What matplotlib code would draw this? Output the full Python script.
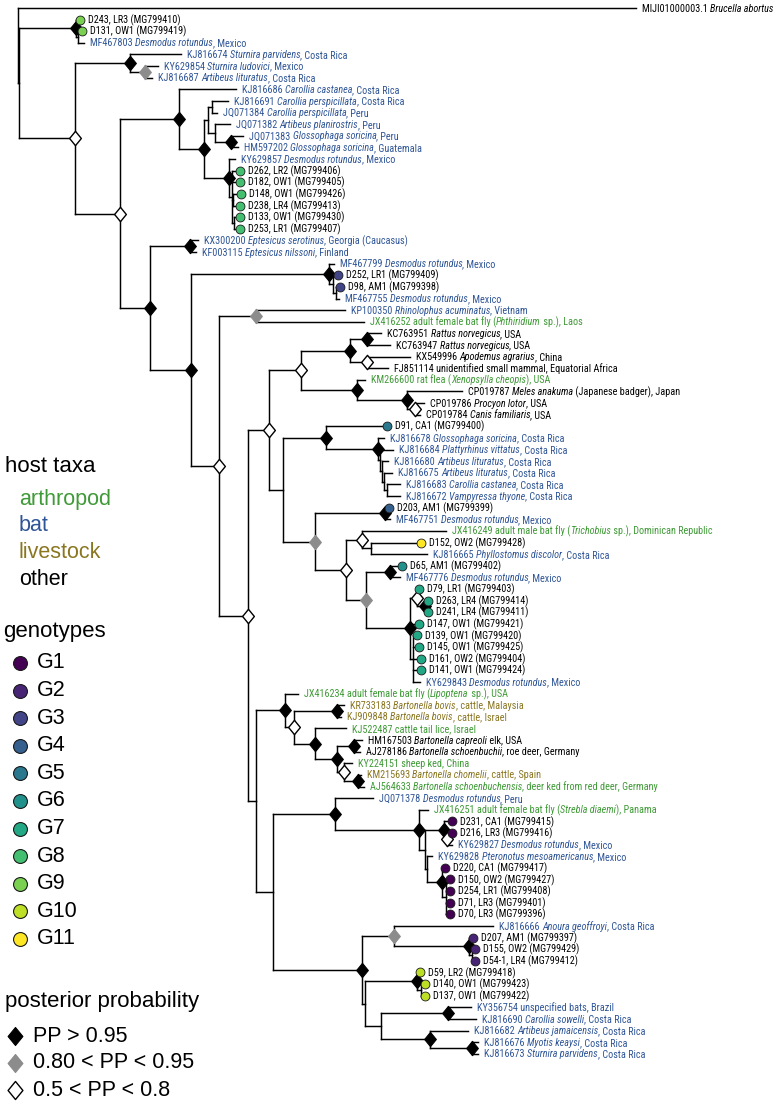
import re
import matplotlib
matplotlib.use('Agg')
import matplotlib.pyplot as plt
from matplotlib import font_manager
from matplotlib.path import Path
from matplotlib.transforms import offset_copy
from matplotlib.collections import LineCollection

# ---------------- data ----------------
# Tree topology with branch lengths (x 1e-3 subs/site) and posterior class
# H: PP > 0.95, M: 0.80 < PP < 0.95, L: 0.5 < PP < 0.8
A_CL = "(D243:4,(D131:4,MF467803:6):2)H"
S_CL = "(KJ816674:51,(KY629854:13,KJ816687:7)M:15)H"
P_CL = "((KJ816691:16,JQ071384:5):4,(JQ071382:15,(JQ071383:12,HM597202:7)H:16):7)"
DC_CL = "(KY629857:6,(D262:8,D182:8,(D148:8,D238:7):1,(D133:6,D253:6):2):3)H"
EPT_CL = "(KX300200:8,KF003115:6)H"
G3_CL = "(MF467799:5,(D252:5,(D98:4,MF467755:3):3):4)H"
RH_CL = "(KP100350:89,JX416252:108)M"
RAT_CL = "((KC763951:14,KC763947:23)H:17,(KX549996:43,FJ851114:21)L:17)H"
X_CL = "(KM266600:8,(CP019787:55,(CP019786:9,CP019784:5)L:8)H:50)H"
BT_CL = "(KJ816678:6,(KJ816684:13,(KJ816680:6,(KJ816675:8,(KJ816683:13,KJ816672:13):3):2):2):2)H"
DN_CL = "(D203:4,MF467751:5)H"
O2_CL = "(JX416249:84,(D152:50,KJ816665:56):9)L"
D65_CL = "(D65:12,MF467776:10)H"
BIG_CL = "((D79:2,(D263:3,D241:3)H:8)L:7,D147:9,(D139:4,D145:6,D161:8,D141:8,KY629843:7):3)H"
N2_CL = "((HM167503:8,AJ278186:6)H:17,(KY224151:8,(KM215693:3,AJ564633:6)H:14)L:7)H"
BOV_CL = "(KR733183:7,KJ909848:4)H"
UB_CL = "(D231:8,(D216:5,KY629827:5)L:3)H"
V_CL = "(KY629828:5,(D220:3,(D150:4,D254:4,D71:4,D70:4):4)H:15)"
Y_CL = "(KJ816666:99,(D207:4,(D155:3,D54-1:3):3)H:75)M"
G10_CL = "(D59:3,(D140:4,D137:4):4)H"
BC_CL = "((KY356754:23,KJ816690:28)H:67,(KJ816682:38,(KJ816676:6,KJ816673:6)H:42)H:49)"

CC_CL = f"(KJ816686:57,({P_CL}:4,{DC_CL}:25)H:25)H"
G7_CL = f"({D65_CL}:24,{BIG_CL}:44)M"
GY_CL = f"({DN_CL}:70,({O2_CL}:16,{G7_CL}:20)L:31)M"
HN_CL = f"(({RAT_CL}:49,{X_CL}:56)L:32,((D91:61,{BT_CL}:52)H:43,{GY_CL}:32):14)L"
LC_CL = f"(JX416234:13,({BOV_CL}:43,(KJ522487:31,{N2_CL}:22)H:21)L:9)H"
K_CL = f"(JQ071378:38,(JX416251:9,({UB_CL}:19,{V_CL}:2):6)H:84)H"
Z_CL = f"({Y_CL}:32,({G10_CL}:52,{BC_CL}:16):3)H"
G_CL = f"({HN_CL}:21,({LC_CL}:29,({K_CL}:62,{Z_CL}:89):17):8)L"
E_CL = f"({G3_CL}:138,({RH_CL}:37,{G_CL}:29)L:28)H"
C_CL = f"({CC_CL}:59,({EPT_CL}:40,{E_CL}:41)H:30)L"
NEWICK = f"(MIJI01000003.1:618,({A_CL}:57,({S_CL}:55,{C_CL}:45)L:56):1);"

# tip labels (*...* = italic) and host category
LABELS = {
    "MIJI01000003.1": ("MIJI01000003.1 *Brucella abortus*", "other"),
    "D243": ("D243, LR3 (MG799410)", "other"),
    "D131": ("D131, OW1 (MG799419)", "other"),
    "MF467803": ("MF467803 *Desmodus rotundus*, Mexico", "bat"),
    "KJ816674": ("KJ816674 *Sturnira parvidens*, Costa Rica", "bat"),
    "KY629854": ("KY629854 *Sturnira ludovici*, Mexico", "bat"),
    "KJ816687": ("KJ816687 *Artibeus lituratus*, Costa Rica", "bat"),
    "KJ816686": ("KJ816686 *Carollia castanea*, Costa Rica", "bat"),
    "KJ816691": ("KJ816691 *Carollia perspicillata*, Costa Rica", "bat"),
    "JQ071384": ("JQ071384 *Carollia perspicillata*, Peru", "bat"),
    "JQ071382": ("JQ071382 *Artibeus planirostris*, Peru", "bat"),
    "JQ071383": ("JQ071383 *Glossophaga soricina*, Peru", "bat"),
    "HM597202": ("HM597202 *Glossophaga soricina*, Guatemala", "bat"),
    "KY629857": ("KY629857 *Desmodus rotundus*, Mexico", "bat"),
    "D262": ("D262, LR2 (MG799406)", "other"),
    "D182": ("D182, OW1 (MG799405)", "other"),
    "D148": ("D148, OW1 (MG799426)", "other"),
    "D238": ("D238, LR4 (MG799413)", "other"),
    "D133": ("D133, OW1 (MG799430)", "other"),
    "D253": ("D253, LR1 (MG799407)", "other"),
    "KX300200": ("KX300200 *Eptesicus serotinus*, Georgia (Caucasus)", "bat"),
    "KF003115": ("KF003115 *Eptesicus nilssoni*, Finland", "bat"),
    "MF467799": ("MF467799 *Desmodus rotundus*, Mexico", "bat"),
    "D252": ("D252, LR1 (MG799409)", "other"),
    "D98": ("D98, AM1 (MG799398)", "other"),
    "MF467755": ("MF467755 *Desmodus rotundus*, Mexico", "bat"),
    "KP100350": ("KP100350 *Rhinolophus acuminatus*, Vietnam", "bat"),
    "JX416252": ("JX416252 adult female bat fly (*Phthiridium* sp.), Laos", "arthropod"),
    "KC763951": ("KC763951 *Rattus norvegicus*, USA", "other"),
    "KC763947": ("KC763947 *Rattus norvegicus*, USA", "other"),
    "KX549996": ("KX549996 *Apodemus agrarius*, China", "other"),
    "FJ851114": ("FJ851114 unidentified small mammal, Equatorial Africa", "other"),
    "KM266600": ("KM266600 rat flea (*Xenopsylla cheopis*), USA", "arthropod"),
    "CP019787": ("CP019787 *Meles anakuma* (Japanese badger), Japan", "other"),
    "CP019786": ("CP019786 *Procyon lotor*, USA", "other"),
    "CP019784": ("CP019784 *Canis familiaris*, USA", "other"),
    "D91": ("D91, CA1 (MG799400)", "other"),
    "KJ816678": ("KJ816678 *Glossophaga soricina*, Costa Rica", "bat"),
    "KJ816684": ("KJ816684 *Plattyrhinus vittatus*, Costa Rica", "bat"),
    "KJ816680": ("KJ816680 *Artibeus lituratus*, Costa Rica", "bat"),
    "KJ816675": ("KJ816675 *Artibeus lituratus*, Costa Rica", "bat"),
    "KJ816683": ("KJ816683 *Carollia castanea*, Costa Rica", "bat"),
    "KJ816672": ("KJ816672 *Vampyressa thyone*, Costa Rica", "bat"),
    "D203": ("D203, AM1 (MG799399)", "other"),
    "MF467751": ("MF467751 *Desmodus rotundus*, Mexico", "bat"),
    "JX416249": ("JX416249 adult male bat fly (*Trichobius* sp.), Dominican Republic", "arthropod"),
    "D152": ("D152, OW2 (MG799428)", "other"),
    "KJ816665": ("KJ816665 *Phyllostomus discolor*, Costa Rica", "bat"),
    "D65": ("D65, AM1 (MG799402)", "other"),
    "MF467776": ("MF467776 *Desmodus rotundus*, Mexico", "bat"),
    "D79": ("D79, LR1 (MG799403)", "other"),
    "D263": ("D263, LR4 (MG799414)", "other"),
    "D241": ("D241, LR4 (MG799411)", "other"),
    "D147": ("D147, OW1 (MG799421)", "other"),
    "D139": ("D139, OW1 (MG799420)", "other"),
    "D145": ("D145, OW1 (MG799425)", "other"),
    "D161": ("D161, OW2 (MG799404)", "other"),
    "D141": ("D141, OW1 (MG799424)", "other"),
    "KY629843": ("KY629843 *Desmodus rotundus*, Mexico", "bat"),
    "JX416234": ("JX416234 adult female bat fly (*Lipoptena* sp.), USA", "arthropod"),
    "KR733183": ("KR733183 *Bartonella bovis*, cattle, Malaysia", "livestock"),
    "KJ909848": ("KJ909848 *Bartonella bovis*, cattle, Israel", "livestock"),
    "KJ522487": ("KJ522487 cattle tail lice, Israel", "arthropod"),
    "HM167503": ("HM167503 *Bartonella capreoli* elk, USA", "other"),
    "AJ278186": ("AJ278186 *Bartonella schoenbuchii*, roe deer, Germany", "other"),
    "KY224151": ("KY224151 sheep ked, China", "arthropod"),
    "KM215693": ("KM215693 *Bartonella chomelii*, cattle, Spain", "livestock"),
    "AJ564633": ("AJ564633 *Bartonella schoenbuchensis*, deer ked from red deer, Germany", "arthropod"),
    "JQ071378": ("JQ071378 *Desmodus rotundus*, Peru", "bat"),
    "JX416251": ("JX416251 adult female bat fly (*Strebla diaemi*), Panama", "arthropod"),
    "D231": ("D231, CA1 (MG799415)", "other"),
    "D216": ("D216, LR3 (MG799416)", "other"),
    "KY629827": ("KY629827 *Desmodus rotundus*, Mexico", "bat"),
    "KY629828": ("KY629828 *Pteronotus mesoamericanus*, Mexico", "bat"),
    "D220": ("D220, CA1 (MG799417)", "other"),
    "D150": ("D150, OW2 (MG799427)", "other"),
    "D254": ("D254, LR1 (MG799408)", "other"),
    "D71": ("D71, LR3 (MG799401)", "other"),
    "D70": ("D70, LR3 (MG799396)", "other"),
    "KJ816666": ("KJ816666 *Anoura geoffroyi*, Costa Rica", "bat"),
    "D207": ("D207, AM1 (MG799397)", "other"),
    "D155": ("D155, OW2 (MG799429)", "other"),
    "D54-1": ("D54-1, LR4 (MG799412)", "other"),
    "D59": ("D59, LR2 (MG799418)", "other"),
    "D140": ("D140, OW1 (MG799423)", "other"),
    "D137": ("D137, OW1 (MG799422)", "other"),
    "KY356754": ("KY356754 unspecified bats, Brazil", "bat"),
    "KJ816690": ("KJ816690 *Carollia sowelli*, Costa Rica", "bat"),
    "KJ816682": ("KJ816682 *Artibeus jamaicensis*, Costa Rica", "bat"),
    "KJ816676": ("KJ816676 *Myotis keaysi*, Costa Rica", "bat"),
    "KJ816673": ("KJ816673 *Sturnira parvidens*, Costa Rica", "bat"),
}

# genotype of each sequenced isolate
GENOTYPE = {
    "D243": 9, "D131": 9,
    "D262": 8, "D182": 8, "D148": 8, "D238": 8, "D133": 8, "D253": 8,
    "D252": 3, "D98": 3, "D91": 5, "D203": 4, "D152": 11, "D65": 6,
    "D79": 7, "D263": 7, "D241": 7, "D147": 7, "D139": 7, "D145": 7,
    "D161": 7, "D141": 7,
    "D231": 1, "D216": 1, "D220": 1, "D150": 1, "D254": 1, "D71": 1, "D70": 1,
    "D207": 2, "D155": 2, "D54-1": 2, "D59": 10, "D140": 10, "D137": 10,
}

HOST_TAXA = ["arthropod", "bat", "livestock", "other"]
HOST_COLORS = ["#3f9a37", "#2f5597", "#8a7621", "#000000"]
GENOTYPES = [f"G{i}" for i in range(1, 12)]
PP_CLASSES = ["PP > 0.95", "0.80 < PP < 0.95", "0.5 < PP < 0.8"]
PP_CODES = ["H", "M", "L"]

# ---------------- styling ----------------
W, H, DPI = 783, 1104, 100
fig = plt.figure(figsize=(W / DPI, H / DPI), dpi=DPI)
ax = fig.add_axes([0, 0, 1, 1])
ax.axis('off')
ROOT_PX, TIP0_PX, TIP_STEP = 18, 8, 11.62
ax.set_xlim(-ROOT_PX, W - ROOT_PX)
ax.set_ylim((H - TIP0_PX) / TIP_STEP, -TIP0_PX / TIP_STEP)

avail = {f.name for f in font_manager.fontManager.ttflist}
NARROW = next((f for f in ["Liberation Sans Narrow", "Arial Narrow", "Roboto Condensed"]
               if f in avail), None)
if NARROW:
    TIP_FAMILY, TIP_SIZE = NARROW, 7.3
else:
    TIP_FAMILY, TIP_SIZE = "Liberation Sans", 6.1
LEG_FAMILY = "Liberation Sans"

cmap = plt.get_cmap('viridis')
GENO_COLORS = [cmap(i / 10) for i in range(11)]
host_col = dict(zip(HOST_TAXA, HOST_COLORS))

DIAMOND = Path([(0, 1), (0.82, 0), (0, -1), (-0.82, 0), (0, 1)],
               [Path.MOVETO, Path.LINETO, Path.LINETO, Path.LINETO, Path.CLOSEPOLY])
PP_STYLE = {
    "H": dict(mfc="black", mec="black", mew=0.8),
    "M": dict(mfc="#8c8c8c", mec="#8c8c8c", mew=0.8),
    "L": dict(mfc="white", mec="black", mew=1.0),
}


# ---------------- parse and lay out tree ----------------
def parse(s):
    s = s.strip().rstrip(';')
    pos = 0

    def node():
        nonlocal pos
        n = {'children': [], 'name': '', 'len': 0.0}
        if s[pos] == '(':
            pos += 1
            while True:
                n['children'].append(node())
                if s[pos] == ',':
                    pos += 1
                    continue
                pos += 1  # ')'
                break
        m = re.match(r'[^(),:;]*', s[pos:])
        n['name'] = m.group(0).strip()
        pos += m.end()
        if pos < len(s) and s[pos] == ':':
            pos += 1
            m = re.match(r'[0-9.eE+-]+', s[pos:])
            n['len'] = float(m.group(0))
            pos += m.end()
        return n
    return node()


tree = parse(NEWICK)
tips, nodes = [], []


def layout(n, x0):
    n['x'] = x0 + n['len']
    nodes.append(n)
    if n['children']:
        for c in n['children']:
            layout(c, n['x'])
        n['y'] = (n['children'][0]['y'] + n['children'][-1]['y']) / 2
    else:
        n['y'] = len(tips)
        tips.append(n)


layout(tree, 0.0)

segs = []
for n in nodes:
    if n['children']:
        segs.append([(n['x'], n['children'][0]['y']), (n['x'], n['children'][-1]['y'])])
        for c in n['children']:
            segs.append([(n['x'], c['y']), (c['x'], c['y'])])
ax.add_collection(LineCollection(segs, colors='black', linewidths=1.05,
                                 capstyle='projecting', zorder=1))

for n in nodes:
    if n['children'] and n['name'] in PP_STYLE:
        ax.plot(n['x'], n['y'], marker=DIAMOND, ms=10.3, ls='none', zorder=3,
                **PP_STYLE[n['name']])

for t in tips:
    g = GENOTYPE.get(t['name'])
    if g:
        ax.plot(t['x'], t['y'], 'o', ms=6.4, mfc=GENO_COLORS[g - 1], mec='#1a1a1a',
                mew=0.6, zorder=4)

# ---------------- tip labels with mixed italics ----------------
fig.canvas.draw()
renderer = fig.canvas.get_renderer()
_wcache = {}


def seg_width(txt, italic, family, size):
    key = (txt, italic, family, size)
    if key not in _wcache:
        kw = dict(family=family, size=size, style='italic' if italic else 'normal')
        a = fig.text(0, 0, '|' + txt + '|', **kw)
        b = fig.text(0, 0, '||', **kw)
        _wcache[key] = (a.get_window_extent(renderer).width -
                        b.get_window_extent(renderer).width)
        a.remove()
        b.remove()
    return _wcache[key]


BASE_DROP = 0.36 * TIP_SIZE * DPI / 72 * 0.98
for t in tips:
    label, host = LABELS[t['name']]
    gap = 8.0 if t['name'] in GENOTYPE else 6.0
    dx = 0.0
    parts = label.split('*')
    for i, p in enumerate(parts):
        if not p:
            continue
        it = (i % 2 == 1)
        tr = offset_copy(ax.transData, fig=fig, x=dx, y=-BASE_DROP, units='dots')
        ax.text(t['x'] + gap, t['y'], p, transform=tr, family=TIP_FAMILY,
                size=TIP_SIZE, style='italic' if it else 'normal',
                color=host_col[host], ha='left', va='baseline', zorder=5)
        dx += seg_width(p, it, TIP_FAMILY, TIP_SIZE)


# ---------------- legend ----------------
def fx(px):
    return px / W


def fy(py):
    return 1 - py / H


HEAD = 16
ITEM = 15.5
fig.text(fx(5), fy(467), "host taxa", family=LEG_FAMILY, size=HEAD, va='center')
for k, (name, col) in enumerate(zip(HOST_TAXA, HOST_COLORS)):
    fig.text(fx(19), fy(499 + 26.7 * k), name, family=LEG_FAMILY, size=ITEM,
             color=col, va='center')

fig.text(fx(3), fy(631), "genotypes", family=LEG_FAMILY, size=HEAD, va='center')
for k, g in enumerate(GENOTYPES):
    yy = 663 + 27.6 * k
    ax.plot(fx(20), fy(yy), 'o', ms=10, mfc=GENO_COLORS[k], mec='#1a1a1a', mew=0.8,
            transform=ax.transAxes, clip_on=False)
    fig.text(fx(37), fy(yy), g, family=LEG_FAMILY, size=ITEM, va='center')

fig.text(fx(5), fy(1001), "posterior probability", family=LEG_FAMILY, size=HEAD,
         va='center')
for k, (lab, code) in enumerate(zip(PP_CLASSES, PP_CODES)):
    yy = 1036 + 27 * k
    ax.plot(fx(15), fy(yy), marker=DIAMOND, ms=13, ls='none', transform=ax.transAxes,
            clip_on=False, **PP_STYLE[code])
    fig.text(fx(33), fy(yy), lab, family=LEG_FAMILY, size=ITEM, va='center')

fig.savefig('out.png', dpi=DPI)
